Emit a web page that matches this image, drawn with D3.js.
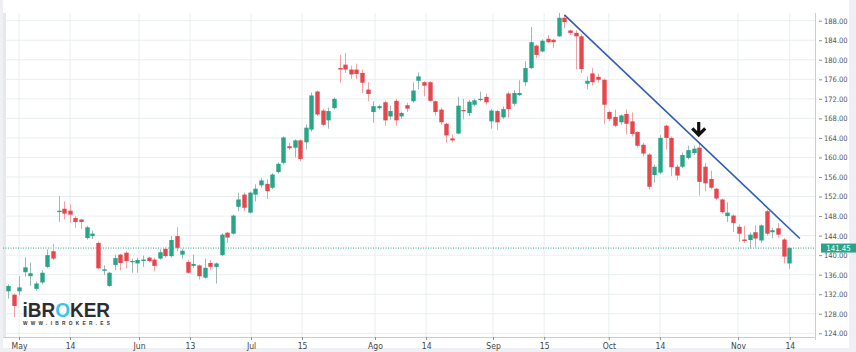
<!DOCTYPE html>
<html><head><meta charset="utf-8">
<script src="https://cdn.jsdelivr.net/npm/d3@7"></script>
<style>html,body{margin:0;padding:0;background:#fff;}svg{display:block;}</style>
</head><body><svg id="c" width="856" height="352"></svg>
<script>
const open  = [132.6,131.9,132.6,136.5,135.7,133.1,134.4,137.6,140.8,148.8,149.5,149.1,147.6,147.3,143.5,143.9,142.5,136.8,133.7,138.0,
               140.1,140.5,138.7,138.3,138.8,139.5,139.1,139.3,141.3,139.8,143.9,140.1,138.6,137.8,137.9,135.4,138.4,137.6,140.0,144.6,
               144.4,149.9,152.4,148.7,152.4,154.3,154.6,153.8,157.0,158.9,162.3,162.0,163.5,163.1,165.7,173.5,169.6,167.6,170.1,178.3,
               179.0,178.0,178.0,177.3,173.9,169.3,170.1,171.3,168.4,171.6,168.4,170.7,171.5,175.7,175.4,175.4,171.5,169.8,166.9,163.9,
               164.9,169.7,169.1,170.8,171.9,172.4,167.4,169.5,168.2,173.1,171.0,172.8,175.4,178.3,182.9,181.7,184.3,184.1,184.8,188.6,
               186.0,185.5,184.8,175.1,177.2,176.5,175.9,169.3,168.3,167.2,168.9,167.4,165.2,162.6,160.6,156.4,156.9,166.5,164.0,158.1,
               158.1,159.9,160.9,162.0,158.1,155.6,153.6,151.4,148.0,148.1,145.8,143.2,143.1,144.7,143.0,149.0,144.7,145.5,143.2,138.3];
const high  = [134.0,132.2,135.7,139.5,138.5,134.6,136.9,141.2,142.3,152.1,151.0,150.4,148.0,147.4,146.0,145.0,142.8,137.9,136.6,140.1,
               140.3,140.8,139.3,139.5,139.9,139.7,139.5,141.2,141.7,143.9,145.7,141.3,139.1,140.1,138.1,139.3,139.0,138.5,144.5,144.8,
               148.3,152.8,152.8,153.0,154.5,155.8,155.5,156.8,159.0,164.3,163.0,163.7,163.7,166.7,173.3,173.7,170.0,170.2,172.3,181.0,
               181.4,178.8,179.2,178.0,175.4,171.5,170.8,171.6,170.6,172.0,169.4,171.2,175.4,177.4,175.6,175.6,171.7,170.2,167.1,164.7,
               172.4,172.0,171.8,172.0,173.5,173.1,169.9,169.8,170.4,173.5,173.8,175.8,179.7,186.7,183.1,184.2,185.1,184.3,189.6,189.2,
               186.2,186.0,185.2,176.6,178.3,177.2,176.2,169.6,169.8,168.8,169.8,169.2,165.4,163.0,160.9,158.6,164.6,166.7,164.3,158.5,
               161.0,162.4,162.4,163.0,158.9,157.3,153.8,151.6,150.8,148.4,146.3,146.0,144.6,146.1,146.3,149.3,145.6,146.6,143.5,141.7];
const low   = [131.1,127.3,131.8,135.6,133.7,132.7,134.0,137.3,139.0,146.8,147.3,146.6,145.6,145.4,143.2,143.3,137.1,135.9,133.5,136.9,
               136.9,137.3,136.4,136.4,137.6,138.5,136.7,139.1,139.5,139.5,140.8,139.3,136.2,137.4,135.0,135.2,136.9,134.2,139.8,142.5,
               144.2,149.0,149.0,148.5,151.0,153.8,151.5,153.5,156.7,158.6,161.5,160.0,159.2,161.6,165.3,168.5,166.4,165.9,169.8,175.3,
               177.3,176.1,176.1,173.2,171.5,167.1,169.8,166.5,167.7,166.5,167.9,169.3,171.2,174.0,172.5,171.4,168.6,166.7,163.0,163.1,
               164.7,167.8,168.5,170.5,171.5,170.8,165.9,165.6,167.9,168.1,170.5,172.6,174.6,178.1,180.3,181.5,183.4,182.4,184.7,186.5,
               185.1,178.0,177.3,173.9,174.7,175.3,166.9,167.4,166.2,166.7,164.7,164.3,162.0,160.2,153.4,154.8,156.6,161.6,156.2,155.3,
               157.8,159.6,160.5,152.2,153.1,153.5,151.3,148.5,146.8,144.7,142.7,142.5,141.3,141.5,142.5,144.0,143.5,143.6,138.3,137.2];
const close = [133.7,129.6,133.4,137.5,136.3,134.2,136.4,140.0,139.3,149.1,148.5,148.3,146.8,146.8,145.7,144.4,137.3,137.1,136.4,139.4,
               138.4,138.8,138.8,139.0,139.1,138.8,137.8,140.6,139.8,143.1,141.5,140.9,136.4,138.2,135.7,137.4,137.6,138.3,144.2,143.6,
               148.1,151.4,149.7,152.8,153.6,155.3,153.1,156.5,158.7,164.1,161.9,163.5,159.7,166.1,172.7,168.8,166.7,169.5,172.0,178.0,
               178.0,177.0,177.1,175.3,173.0,170.5,170.5,167.6,169.5,167.6,169.1,170.0,173.7,176.6,174.7,171.6,169.3,167.2,164.5,163.5,
               170.6,169.5,171.4,171.7,172.0,171.3,169.6,167.2,169.9,169.9,173.2,173.2,178.3,183.6,181.0,183.9,183.6,183.6,188.6,187.7,
               185.5,184.8,178.1,175.7,175.4,175.9,170.8,167.9,166.5,168.6,166.9,164.8,162.4,160.8,154.0,158.1,164.0,164.0,158.0,156.3,
               160.5,161.5,161.8,155.0,154.7,153.8,151.6,148.8,148.7,146.6,144.4,142.9,144.2,143.4,146.1,144.4,145.1,144.2,139.7,141.45];

const yTicks = [124,128,132,136,140,144,148,152,156,160,164,168,172,176,180,184,188];
const xTickLabels = ["May","14","Jun","13","Jul","15","Ago","14","Sep","15","Oct","14","Nov","14"];
const xTickPos = [1.96,11.03,23.31,32.38,43.24,52.31,65.3,74.4,86.3,95.4,106.9,116.0,129.9,139.1];
const lastPrice = 141.45;
const trendIdx = [99, 140.9];
const trendVal = [189.2, 143.4];
const arrowIdx = 122.9, arrowVal = 164.4;
const logoText = "iBROKER", logoSub = "WWW.IBROKER.ES";

const svg = d3.select("#c");
const W = 856, H = 352;
const plotL = 3, plotR = 815, plotT = 13, plotB = 337;
const x = d3.scaleLinear().domain([0, 139]).range([8, 789.2]);
const y = d3.scaleLinear().domain([124, 188]).range([333.3, 20.7]);
const AXFONT = "'DejaVu Sans Condensed','Liberation Sans Narrow',sans-serif";

// background frame
svg.append("rect").attr("x",0).attr("y",0).attr("width",W).attr("height",H).attr("fill","#eef0f3");
svg.append("rect").attr("x",plotL).attr("y",0).attr("width",849-plotL).attr("height",348).attr("fill","#fff");
svg.append("rect").attr("x",plotL).attr("y",plotT).attr("width",3).attr("height",plotB-plotT).attr("fill","#e6e8ec");

const grid = svg.append("g");
grid.selectAll("line.h").data(yTicks).join("line")
  .attr("x1",plotL).attr("x2",plotR).attr("y1",d=>y(d)).attr("y2",d=>y(d))
  .attr("stroke","#e8eef0").attr("stroke-width",1);
grid.selectAll("line.v").data(xTickPos).join("line")
  .attr("x1",d=>x(d)).attr("x2",d=>x(d)).attr("y1",plotT).attr("y2",plotB)
  .attr("stroke","#e8eef0").attr("stroke-width",1);

// bottom axis
const xAxis = d3.axisBottom(x).tickValues(xTickPos).tickFormat((d,i)=>xTickLabels[i]).tickSize(3).tickPadding(3);
const gx = svg.append("g").attr("transform",`translate(0,${plotB})`).call(xAxis);
gx.select(".domain").attr("d",`M${plotL},0.5H${plotR}`).attr("stroke","#c9ced4");
gx.selectAll(".tick line").attr("stroke","#8a9096");
gx.selectAll("text").attr("fill","#444").attr("font-size","8.5px").attr("font-family",AXFONT);

// right axis
const yAxis = d3.axisRight(y).tickValues(yTicks).tickFormat(d3.format(".2f")).tickSize(3).tickPadding(2);
const gy = svg.append("g").attr("transform",`translate(${plotR+4},0)`).call(yAxis);
gy.select(".domain").remove();
gy.selectAll(".tick line").attr("stroke","#8a9096");
gy.selectAll("text").attr("fill","#555").attr("font-size","7.5px").attr("font-family",AXFONT);
svg.append("line").attr("x1",plotR+0.5).attr("x2",plotR+0.5).attr("y1",plotT).attr("y2",plotB+3)
  .attr("stroke","#c9ced4");

// logo: one text element, the "O" coloured via a hard-stop gradient
const defs = svg.append("defs");
const lg = defs.append("linearGradient").attr("id","logoFill").attr("gradientUnits","userSpaceOnUse")
  .attr("x1",0).attr("x2",W).attr("y1",0).attr("y2",0);
const oS = 55.0/W, oE = 70.0/W;
[[0,"#2b2d33"],[oS,"#2b2d33"],[oS,"#3cc3e6"],[oE,"#3cc3e6"],[oE,"#2b2d33"],[1,"#2b2d33"]]
  .forEach(s=>lg.append("stop").attr("offset",s[0]).attr("stop-color",s[1]));
svg.append("text").attr("x",22.5).attr("y",316.5).text(logoText)
  .attr("font-family","'Liberation Sans',Arial,sans-serif").attr("font-size","20.5px")
  .attr("font-weight","bold").attr("fill","url(#logoFill)")
  .attr("textLength",87.5).attr("lengthAdjust","spacingAndGlyphs");
svg.append("text").attr("x",23).attr("y",325).text(logoSub)
  .attr("font-family","'Liberation Sans',Arial,sans-serif").attr("font-size","4.8px").attr("font-weight","bold")
  .attr("fill","#333").attr("textLength",87).attr("lengthAdjust","spacing");

// last price line
svg.append("line").attr("x1",plotL).attr("x2",plotR).attr("y1",y(lastPrice)).attr("y2",y(lastPrice))
  .attr("stroke","#26a588").attr("stroke-width",1).attr("stroke-dasharray","1,1.5");

// candles
const GREEN = "#26a588", RED = "#e5474d";
const idx = d3.range(open.length);
const cg = svg.append("g");
cg.selectAll("line.w").data(idx).join("line")
  .attr("x1",i=>Math.round(x(i))+0.5).attr("x2",i=>Math.round(x(i))+0.5)
  .attr("y1",i=>y(high[i])).attr("y2",i=>y(low[i]))
  .attr("stroke",i=>close[i]>=open[i]?"#9fb8b2":"#f0a3a6").attr("stroke-width",1);
const bw = 4.4;
cg.selectAll("rect.b").data(idx).join("rect")
  .attr("x",i=>Math.round(x(i))+0.5-bw/2).attr("width",bw)
  .attr("y",i=>y(Math.max(open[i],close[i])))
  .attr("height",i=>Math.max(1.2, Math.abs(y(open[i])-y(close[i]))))
  .attr("fill",i=>close[i]>=open[i]?GREEN:RED);

// trend line
svg.append("line").attr("x1",x(trendIdx[0])).attr("y1",y(trendVal[0]))
  .attr("x2",x(trendIdx[1])).attr("y2",y(trendVal[1]))
  .attr("stroke","#2f5fb8").attr("stroke-width",1.6);

// arrow
const ax = x(arrowIdx), ay = y(arrowVal);
svg.append("path").attr("d",`M${ax},${ay-14}V${ay-1}M${ax-6.5},${ay-7.5}L${ax},${ay-1}L${ax+6.5},${ay-7.5}`)
  .attr("fill","none").attr("stroke","#111").attr("stroke-width",3.2).attr("stroke-linecap","butt").attr("stroke-linejoin","miter");

// price tag
const py = y(lastPrice);
svg.append("rect").attr("x",821).attr("y",py-4.5).attr("width",35).attr("height",9).attr("fill","#26a588");
svg.append("text").attr("x",838.5).attr("y",py+2.5).attr("text-anchor","middle").text(lastPrice.toFixed(2))
  .attr("fill","#fff").attr("font-size","7.8px").attr("font-family",AXFONT);
</script></body></html>
